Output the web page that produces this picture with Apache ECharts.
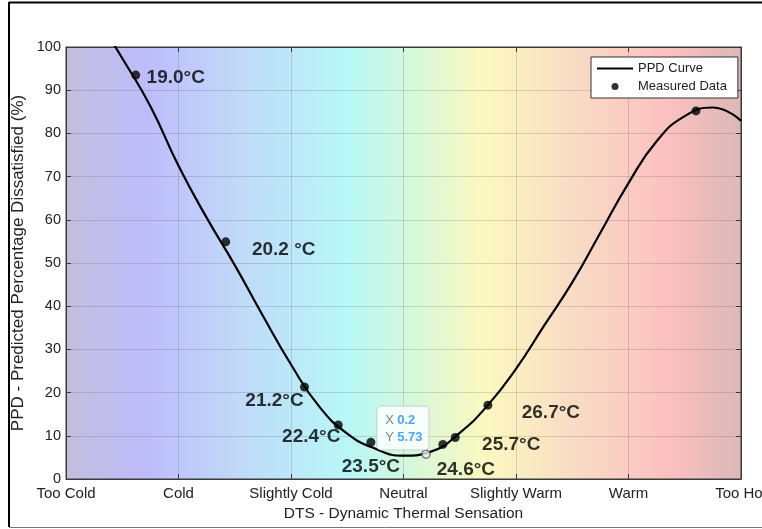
<!DOCTYPE html>
<html><head><meta charset="utf-8">
<script src="https://cdn.jsdelivr.net/npm/echarts@6/dist/echarts.min.js"></script>
<style>html,body{margin:0;padding:0;background:#fff}#c{width:762px;height:529px}</style>
</head><body><div id="c"></div>
<script>
// x ticks (DTS scale -3..3)
const xTickLabels = ['Too Cold','Cold','Slightly Cold','Neutral','Slightly Warm','Warm','Too Hot'];
// PPD curve
const curveX = [-2.75, -2.5, -2.25, -2.0, -1.75, -1.5, -1.25, -1.0, -0.75, -0.5, -0.25, 0.0, 0.25, 0.5, 0.75, 1.0, 1.25, 1.5, 1.75, 2.0, 2.25, 2.5, 2.75, 3.0];
const curveY = [108, 97.4, 86.3, 72.5, 60.5, 49.5, 37.8, 26.5, 16.8, 10.5, 7.0, 5.4, 6.4, 10.7, 17.1, 25.5, 35.5, 45.5, 57.0, 68.5, 78.2, 84.0, 86.0, 82.9];
// measured data
const measX = [-2.38, -1.58, -0.88, -0.58, -0.29, 0.35, 0.46, 0.75, 2.60];
const measY = [93.5, 54.9, 21.3, 12.5, 8.5, 8.0, 9.6, 17.1, 85.2];
const measLabels = ['19.0°C','20.2 °C','21.2°C','22.4°C','23.5°C','24.6°C','25.7°C','26.7°C',''];
// data tip
const tipX = 0.2, tipY = 5.73;

const labelOffsets = [[40,3],[58,8],[-30,14],[-27,12],[0,24],[23,25],[56,7],[63,8],[0,0]];

const chart = echarts.init(document.getElementById('c'), null, {renderer:'canvas'});
const FONT = 'Liberation Sans, Arial, Helvetica, sans-serif';
const grad = new echarts.graphic.LinearGradient(0,0,1,0,[
  {offset:0.00,color:'#c4bedc'},
  {offset:0.12,color:'#bebcfc'},
  {offset:0.25,color:'#c0d8f8'},
  {offset:0.42,color:'#b8f8f8'},
  {offset:0.52,color:'#d8f8d8'},
  {offset:0.62,color:'#fcf8c0'},
  {offset:0.75,color:'#f8dcc4'},
  {offset:0.89,color:'#fcc0c0'},
  {offset:1.00,color:'#dcb8b8'}
]);
const axisCol = '#3a3a3a';
const gridLine = {show:true, lineStyle:{color:'rgba(60,60,60,0.18)', width:1}};
chart.setOption({
  animation:false,
  textStyle:{fontFamily:FONT},
  grid:{left:66,right:21,top:47,bottom:50,outerBoundsMode:'none',containLabel:false,show:true,backgroundColor:grad,borderColor:axisCol,borderWidth:1},
  legend:{
    left:591, top:57, orient:'vertical', backgroundColor:'#fff', borderColor:'#333', borderWidth:1,
    borderRadius:0, padding:[5,11,5,6], itemGap:5, itemWidth:36, itemHeight:7,
    textStyle:{fontSize:13, color:'#222', fontFamily:FONT},
    data:[{name:'PPD Curve', icon:'path://M0,0H36V2H0Z'},{name:'Measured Data', icon:'circle'}]
  },
  xAxis:[{
    type:'value', min:-3, max:3, interval:1,
    name:'DTS - Dynamic Thermal Sensation', nameLocation:'middle', nameGap:27, nameMoveOverlap:false,
    nameTextStyle:{fontSize:15.5,color:'#222'},
    axisLine:{onZero:false,lineStyle:{color:axisCol}}, axisTick:{inside:true,length:5,lineStyle:{color:axisCol}},
    axisLabel:{fontSize:15,color:'#222',margin:7,formatter:v=>xTickLabels[Math.round(v)+3]},
    splitLine:gridLine
  },{
    type:'value', min:-3, max:3, interval:1, position:'top',
    axisLine:{show:true,onZero:false,lineStyle:{color:axisCol}}, axisTick:{inside:true,length:5,lineStyle:{color:axisCol}},
    axisLabel:{show:false}, splitLine:{show:false}
  }],
  yAxis:[{
    type:'value', min:0, max:100, interval:10,
    name:'PPD - Predicted Percentage Dissatisfied (%)', nameLocation:'middle', nameGap:39, nameMoveOverlap:false,
    nameTextStyle:{fontSize:17,color:'#222'},
    axisLine:{show:true,onZero:false,lineStyle:{color:axisCol}}, axisTick:{show:true,inside:true,length:5,lineStyle:{color:axisCol}},
    axisLabel:{fontSize:14.5,color:'#222',margin:5},
    splitLine:gridLine
  },{
    type:'value', min:0, max:100, interval:10, position:'right',
    axisLine:{show:true,onZero:false,lineStyle:{color:axisCol}}, axisTick:{show:true,inside:true,length:5,lineStyle:{color:axisCol}},
    axisLabel:{show:false}, splitLine:{show:false}
  }],
  series:[{
    name:'PPD Curve', type:'line', smooth:0.5, symbol:'none',
    data:curveX.map((x,i)=>[x,curveY[i]]),
    lineStyle:{color:'#000',width:2.2}, itemStyle:{color:'#000'}, z:3
  },{
    name:'Measured Data', type:'scatter', symbolSize:9,
    itemStyle:{color:'#000'}, z:4,
    data:measX.map((x,i)=>({value:[x,measY[i]], label:{offset:labelOffsets[i]}})),
    label:{show:true, position:'inside', formatter:p=>measLabels[p.dataIndex],
      fontSize:19, fontWeight:'bold', color:'#000', textBorderWidth:0, textBorderColor:'transparent', fontFamily:FONT}
  },{
    name:'tip', type:'scatter', symbol:'circle', symbolSize:8, z:5,
    itemStyle:{color:'#eee', borderColor:'#555', borderWidth:1.5},
    data:[[tipX,tipY]],
    label:{show:true, position:[-44,-43],
      formatter:()=>'{k|X} {v|'+tipX+'}\n{k|Y} {v|'+tipY+'}',
      backgroundColor:'#fff', borderColor:'#c8c8c8', borderWidth:1, borderRadius:4, padding:[5,6,4,8],
      lineHeight:17, textBorderWidth:0,
      rich:{k:{fontSize:13,color:'#666',fontFamily:FONT}, v:{fontSize:13,color:'#1e90ff',fontWeight:'bold',fontFamily:FONT}}}
  }],
  graphic:[
    {type:'line', shape:{x1:9,y1:2,x2:9,y2:527}, style:{stroke:'#000',lineWidth:2}},
    {type:'line', shape:{x1:9,y1:2.5,x2:762,y2:2.5}, style:{stroke:'#000',lineWidth:2}},
    {type:'line', shape:{x1:9,y1:527.5,x2:762,y2:527.5}, style:{stroke:'#777',lineWidth:1}}
  ]
});
</script></body></html>
